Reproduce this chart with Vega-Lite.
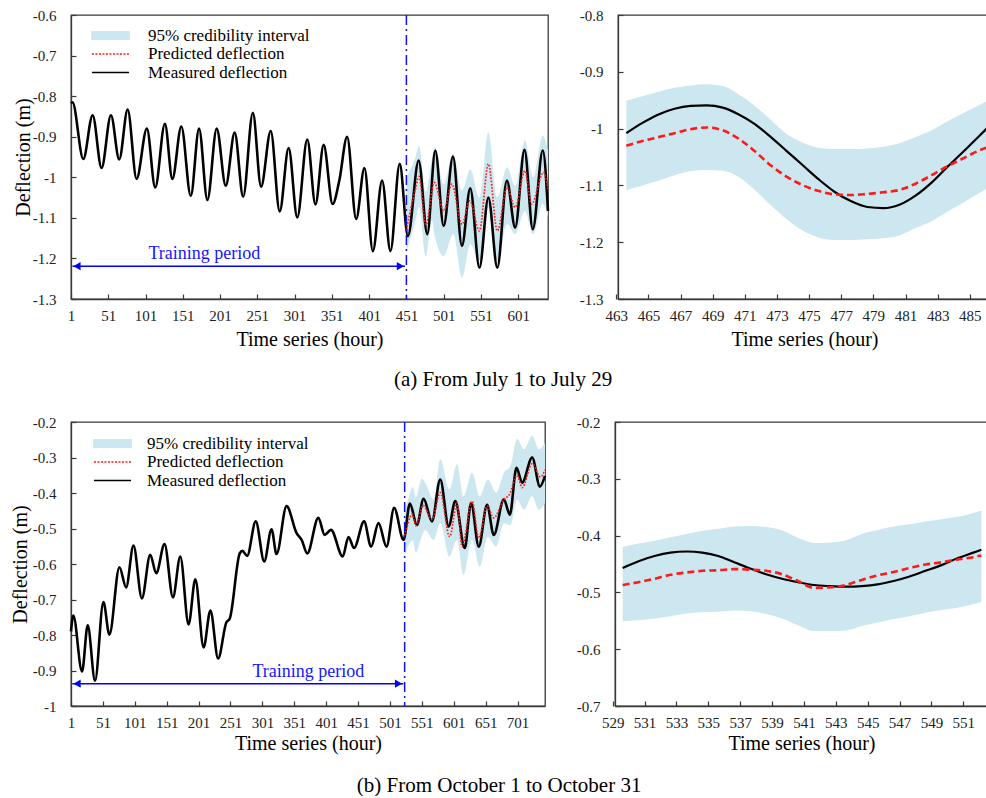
{
  "$schema": "https://vega.github.io/schema/vega-lite/v6.json",
  "background": "white",
  "padding": {"left": 9, "top": 7, "right": 0, "bottom": 0},
  "config": {
    "font": "Liberation Serif",
    "view": {"stroke": "#3a3a3a", "strokeWidth": 1.3},
    "axis": {
      "grid": false,
      "domainColor": "#3a3a3a",
      "domainWidth": 1.3,
      "tickColor": "#3a3a3a",
      "tickWidth": 1.2,
      "tickSize": -5,
      "labelFont": "Liberation Serif",
      "labelFontSize": 15,
      "labelColor": "#222222",
      "titleFont": "Liberation Serif",
      "titleFontSize": 20,
      "titleFontWeight": "normal",
      "titleColor": "#000000",
      "labelFlush": false,
      "labelOverlap": false,
      "labelBound": false
    },
    "axisX": {"labelPadding": 14, "titlePadding": 6},
    "axisY": {"labelPadding": 20, "titlePadding": -1},
    "legend": {
      "labelFont": "Liberation Serif",
      "labelFontSize": 17,
      "labelColor": "#000000",
      "labelLimit": 400,
      "padding": 0,
      "rowPadding": 0.5,
      "symbolSize": 272,
      "symbolType": "M-2.2,0H2.2",
      "symbolStrokeWidth": 1.6
    },
    "title": {"font": "Liberation Serif", "fontSize": 21, "fontWeight": "normal", "color": "#000000"}
  },
  "datasets": {
    "julyMeasured": [
      {"t": 1, "v": -0.818}, {"t": 3, "v": -0.815}, {"t": 17.5, "v": -0.955}, {"t": 30, "v": -0.847},
      {"t": 42, "v": -0.977}, {"t": 54.6, "v": -0.847}, {"t": 65.7, "v": -0.956}, {"t": 77, "v": -0.833},
      {"t": 89, "v": -1.004}, {"t": 102.8, "v": -0.88}, {"t": 114, "v": -1.025}, {"t": 127, "v": -0.868},
      {"t": 137, "v": -1.004}, {"t": 149, "v": -0.875}, {"t": 161.7, "v": -1.046}, {"t": 172.8, "v": -0.88},
      {"t": 184, "v": -1.056}, {"t": 196.5, "v": -0.88}, {"t": 208.6, "v": -1.021}, {"t": 220.6, "v": -0.89},
      {"t": 232, "v": -1.048}, {"t": 245, "v": -0.841}, {"t": 256, "v": -1.023}, {"t": 269, "v": -0.886},
      {"t": 281, "v": -1.084}, {"t": 293, "v": -0.928}, {"t": 304.6, "v": -1.099}, {"t": 318, "v": -0.907},
      {"t": 329, "v": -1.067}, {"t": 340, "v": -0.92}, {"t": 352, "v": -1.066}, {"t": 361, "v": -1.008},
      {"t": 371.5, "v": -0.9}, {"t": 383.6, "v": -1.103}, {"t": 394.7, "v": -0.977}, {"t": 406, "v": -1.182},
      {"t": 418.4, "v": -1.008}, {"t": 429.6, "v": -1.182}, {"t": 442, "v": -0.967}, {"t": 453, "v": -1.145},
      {"t": 467.5, "v": -0.959}, {"t": 479, "v": -1.14}, {"t": 489.8, "v": -0.934}, {"t": 501, "v": -1.12},
      {"t": 513.5, "v": -0.949}, {"t": 525.5, "v": -1.169}, {"t": 536.7, "v": -1.027}, {"t": 549, "v": -1.223},
      {"t": 561, "v": -1.05}, {"t": 573, "v": -1.223}, {"t": 585.8, "v": -1.008}, {"t": 597, "v": -1.124},
      {"t": 609.5, "v": -0.932}, {"t": 620.6, "v": -1.128}, {"t": 634, "v": -0.934}, {"t": 641, "v": -1.083}
    ],
    "julyPredicted": [
      {"t": 451, "v": -1.13}, {"t": 463, "v": -1.03}, {"t": 468, "v": -0.998}, {"t": 477, "v": -1.117},
      {"t": 488.5, "v": -1.013}, {"t": 501, "v": -1.083}, {"t": 512, "v": -1.017}, {"t": 525.5, "v": -1.116},
      {"t": 536, "v": -1.058}, {"t": 549, "v": -1.132}, {"t": 561, "v": -0.967}, {"t": 573, "v": -1.132},
      {"t": 586, "v": -1.025}, {"t": 597, "v": -1.074}, {"t": 610, "v": -0.984}, {"t": 619, "v": -1.066},
      {"t": 635, "v": -0.988}, {"t": 641, "v": -1.03}
    ],
    "julyBand": [
      {"t": 451, "hi": -1.0, "lo": -1.185}, {"t": 463, "hi": -0.951, "lo": -1.108}, {"t": 468, "hi": -0.922, "lo": -1.073},
      {"t": 477, "hi": -1.036, "lo": -1.196}, {"t": 485.5, "hi": -0.951, "lo": -1.105}, {"t": 488.5, "hi": -0.926, "lo": -1.14},
      {"t": 501, "hi": -1.017, "lo": -1.194}, {"t": 514, "hi": -0.942, "lo": -1.14}, {"t": 525.5, "hi": -1.033, "lo": -1.248},
      {"t": 536.7, "hi": -0.98, "lo": -1.165}, {"t": 549, "hi": -1.05, "lo": -1.206}, {"t": 561, "hi": -0.889, "lo": -1.074},
      {"t": 573, "hi": -1.05, "lo": -1.206}, {"t": 586, "hi": -0.975, "lo": -1.116}, {"t": 597, "hi": -1.021, "lo": -1.14},
      {"t": 610, "hi": -0.909, "lo": -1.083}, {"t": 621, "hi": -1.0, "lo": -1.14}, {"t": 634, "hi": -0.897, "lo": -1.066},
      {"t": 641, "hi": -0.934, "lo": -1.099}
    ],
    "julyDetail": [
      {"t": 463, "m": -1.008, "p": -1.03, "hi": -0.951, "lo": -1.108},
      {"t": 464, "m": -0.99, "p": -1.022, "hi": -0.943, "lo": -1.1},
      {"t": 465, "m": -0.975, "p": -1.015, "hi": -0.935, "lo": -1.092},
      {"t": 466, "m": -0.965, "p": -1.008, "hi": -0.928, "lo": -1.082},
      {"t": 467, "m": -0.96, "p": -1.001, "hi": -0.924, "lo": -1.075},
      {"t": 468, "m": -0.959, "p": -0.998, "hi": -0.922, "lo": -1.073},
      {"t": 469, "m": -0.963, "p": -1.003, "hi": -0.925, "lo": -1.074},
      {"t": 470, "m": -0.975, "p": -1.018, "hi": -0.94, "lo": -1.085},
      {"t": 471, "m": -0.992, "p": -1.04, "hi": -0.96, "lo": -1.108},
      {"t": 472, "m": -1.015, "p": -1.065, "hi": -0.985, "lo": -1.135},
      {"t": 473, "m": -1.04, "p": -1.085, "hi": -1.01, "lo": -1.16},
      {"t": 474, "m": -1.065, "p": -1.1, "hi": -1.025, "lo": -1.18},
      {"t": 475, "m": -1.09, "p": -1.11, "hi": -1.034, "lo": -1.192},
      {"t": 476, "m": -1.112, "p": -1.116, "hi": -1.036, "lo": -1.196},
      {"t": 477, "m": -1.128, "p": -1.117, "hi": -1.036, "lo": -1.196},
      {"t": 478, "m": -1.138, "p": -1.115, "hi": -1.035, "lo": -1.195},
      {"t": 479, "m": -1.14, "p": -1.112, "hi": -1.032, "lo": -1.193},
      {"t": 480, "m": -1.134, "p": -1.108, "hi": -1.026, "lo": -1.188},
      {"t": 481, "m": -1.118, "p": -1.097, "hi": -1.015, "lo": -1.175},
      {"t": 482, "m": -1.095, "p": -1.082, "hi": -1.003, "lo": -1.163},
      {"t": 483, "m": -1.067, "p": -1.066, "hi": -0.987, "lo": -1.146},
      {"t": 484, "m": -1.04, "p": -1.052, "hi": -0.972, "lo": -1.13},
      {"t": 485, "m": -1.012, "p": -1.038, "hi": -0.958, "lo": -1.113},
      {"t": 485.5, "m": -0.998, "p": -1.033, "hi": -0.951, "lo": -1.105}
    ],
    "octMeasured": [
      {"t": 1, "v": -0.79}, {"t": 4.6, "v": -0.745}, {"t": 18.3, "v": -0.903}, {"t": 27.2, "v": -0.773},
      {"t": 38.7, "v": -0.929}, {"t": 51.8, "v": -0.707}, {"t": 61.2, "v": -0.799}, {"t": 76.9, "v": -0.609},
      {"t": 87.4, "v": -0.666}, {"t": 98.9, "v": -0.548}, {"t": 112.1, "v": -0.697}, {"t": 125.2, "v": -0.574},
      {"t": 134.6, "v": -0.626}, {"t": 147.6, "v": -0.544}, {"t": 160.8, "v": -0.694}, {"t": 172.3, "v": -0.579},
      {"t": 185.3, "v": -0.77}, {"t": 195.9, "v": -0.643}, {"t": 208.9, "v": -0.835}, {"t": 219.5, "v": -0.731},
      {"t": 231.6, "v": -0.866}, {"t": 244.6, "v": -0.764}, {"t": 249.8, "v": -0.754}, {"t": 265.5, "v": -0.57},
      {"t": 269.7, "v": -0.563}, {"t": 277.1, "v": -0.577}, {"t": 290.6, "v": -0.48}, {"t": 303.9, "v": -0.593},
      {"t": 315.3, "v": -0.502}, {"t": 323.2, "v": -0.572}, {"t": 338.9, "v": -0.437}, {"t": 354.6, "v": -0.513},
      {"t": 362.5, "v": -0.532}, {"t": 371.4, "v": -0.57}, {"t": 388.7, "v": -0.47}, {"t": 398.6, "v": -0.518},
      {"t": 408.5, "v": -0.504}, {"t": 426.9, "v": -0.579}, {"t": 435.9, "v": -0.524}, {"t": 444.7, "v": -0.555},
      {"t": 460.4, "v": -0.48}, {"t": 471.4, "v": -0.551}, {"t": 483, "v": -0.485}, {"t": 495.6, "v": -0.551},
      {"t": 507.5, "v": -0.442}, {"t": 522.3, "v": -0.532}, {"t": 532.2, "v": -0.43}, {"t": 543.2, "v": -0.49},
      {"t": 553.7, "v": -0.416}, {"t": 566.8, "v": -0.48}, {"t": 579.8, "v": -0.362}, {"t": 593, "v": -0.494},
      {"t": 603.4, "v": -0.423}, {"t": 618.2, "v": -0.555}, {"t": 628.1, "v": -0.428}, {"t": 640.2, "v": -0.551},
      {"t": 653.2, "v": -0.433}, {"t": 663.7, "v": -0.518}, {"t": 679.5, "v": -0.418}, {"t": 688.9, "v": -0.461},
      {"t": 699.3, "v": -0.329}, {"t": 708.2, "v": -0.371}, {"t": 723.9, "v": -0.3}, {"t": 736, "v": -0.382},
      {"t": 744, "v": -0.352}
    ],
    "octPredicted": [
      {"t": 524, "v": -0.52}, {"t": 529, "v": -0.487}, {"t": 536, "v": -0.459}, {"t": 541.5, "v": -0.492},
      {"t": 553, "v": -0.435}, {"t": 566.8, "v": -0.475}, {"t": 579.8, "v": -0.399}, {"t": 594.6, "v": -0.523},
      {"t": 606.1, "v": -0.428}, {"t": 614, "v": -0.551}, {"t": 629.7, "v": -0.423}, {"t": 640.2, "v": -0.527},
      {"t": 653.2, "v": -0.437}, {"t": 663.7, "v": -0.47}, {"t": 679.5, "v": -0.418}, {"t": 688, "v": -0.405},
      {"t": 700.3, "v": -0.35}, {"t": 708.2, "v": -0.385}, {"t": 723.9, "v": -0.317}, {"t": 737, "v": -0.355},
      {"t": 744, "v": -0.335}
    ],
    "octBand": [
      {"t": 524, "hi": -0.447, "lo": -0.579}, {"t": 529, "hi": -0.42, "lo": -0.551}, {"t": 537, "hi": -0.383, "lo": -0.533},
      {"t": 541.5, "hi": -0.413, "lo": -0.568}, {"t": 551, "hi": -0.36, "lo": -0.521}, {"t": 556.2, "hi": -0.371, "lo": -0.504},
      {"t": 569.4, "hi": -0.418, "lo": -0.532}, {"t": 579.8, "hi": -0.305, "lo": -0.485}, {"t": 594, "hi": -0.39, "lo": -0.579},
      {"t": 606.1, "hi": -0.319, "lo": -0.532}, {"t": 616, "hi": -0.409, "lo": -0.631}, {"t": 629.7, "hi": -0.343, "lo": -0.532},
      {"t": 641.5, "hi": -0.409, "lo": -0.608}, {"t": 654.3, "hi": -0.362, "lo": -0.523}, {"t": 667.5, "hi": -0.399, "lo": -0.551},
      {"t": 679.5, "hi": -0.343, "lo": -0.485}, {"t": 689.8, "hi": -0.324, "lo": -0.49}, {"t": 700.3, "hi": -0.248, "lo": -0.418},
      {"t": 710.9, "hi": -0.277, "lo": -0.447}, {"t": 723.9, "hi": -0.239, "lo": -0.409}, {"t": 734.4, "hi": -0.277, "lo": -0.447},
      {"t": 744, "hi": -0.258, "lo": -0.428}
    ],
    "octDetail": [
      {"t": 529, "m": -0.457, "p": -0.487, "hi": -0.42, "lo": -0.551},
      {"t": 530, "m": -0.445, "p": -0.482, "hi": -0.414, "lo": -0.549},
      {"t": 531, "m": -0.436, "p": -0.476, "hi": -0.409, "lo": -0.546},
      {"t": 532, "m": -0.43, "p": -0.469, "hi": -0.403, "lo": -0.542},
      {"t": 533, "m": -0.428, "p": -0.465, "hi": -0.397, "lo": -0.537},
      {"t": 534, "m": -0.43, "p": -0.462, "hi": -0.392, "lo": -0.535},
      {"t": 535, "m": -0.436, "p": -0.461, "hi": -0.388, "lo": -0.534},
      {"t": 536, "m": -0.447, "p": -0.459, "hi": -0.384, "lo": -0.532},
      {"t": 537, "m": -0.458, "p": -0.46, "hi": -0.383, "lo": -0.533},
      {"t": 538, "m": -0.468, "p": -0.462, "hi": -0.385, "lo": -0.538},
      {"t": 539, "m": -0.476, "p": -0.468, "hi": -0.391, "lo": -0.546},
      {"t": 540, "m": -0.482, "p": -0.48, "hi": -0.404, "lo": -0.558},
      {"t": 541, "m": -0.487, "p": -0.492, "hi": -0.413, "lo": -0.568},
      {"t": 542, "m": -0.489, "p": -0.491, "hi": -0.412, "lo": -0.568},
      {"t": 543, "m": -0.49, "p": -0.487, "hi": -0.408, "lo": -0.567},
      {"t": 544, "m": -0.489, "p": -0.478, "hi": -0.397, "lo": -0.559},
      {"t": 545, "m": -0.486, "p": -0.47, "hi": -0.39, "lo": -0.553},
      {"t": 546, "m": -0.48, "p": -0.464, "hi": -0.384, "lo": -0.547},
      {"t": 547, "m": -0.472, "p": -0.457, "hi": -0.38, "lo": -0.542},
      {"t": 548, "m": -0.462, "p": -0.451, "hi": -0.375, "lo": -0.536},
      {"t": 549, "m": -0.452, "p": -0.447, "hi": -0.371, "lo": -0.531},
      {"t": 550, "m": -0.44, "p": -0.442, "hi": -0.367, "lo": -0.527},
      {"t": 551, "m": -0.43, "p": -0.438, "hi": -0.36, "lo": -0.521},
      {"t": 551.5, "m": -0.425, "p": -0.435, "hi": -0.356, "lo": -0.517}
    ]
  },
  "resolve": {"scale": {"color": "independent"}},
  "spacing": 24,
  "vconcat": [
    {
      "title": {"text": "(a) From July 1 to July 29", "orient": "bottom", "anchor": "middle", "offset": 19},
      "resolve": {"scale": {"color": "independent"}},
      "spacing": 24,
      "hconcat": [
        {
          "width": 477,
          "height": 284,
          "layer": [
            {
              "data": {"name": "julyBand"},
              "mark": {"type": "area", "interpolate": "monotone"},
              "encoding": {
                "x": {"field": "t", "type": "quantitative", "scale": {"domain": [1, 641], "nice": false, "zero": false},
                      "axis": {"values": [1, 51, 101, 151, 201, 251, 301, 351, 401, 451, 501, 551, 601], "tickCount": 100, "format": "d", "title": "Time series (hour)", "labelOverlap": false}},
                "y": {"field": "lo", "type": "quantitative", "scale": {"domain": [-1.3, -0.6], "nice": false, "zero": false},
                      "axis": {"values": [-1.3, -1.2, -1.1, -1, -0.9, -0.8, -0.7, -0.6], "tickCount": 100, "title": "Deflection (m)", "labelOverlap": false,
                               "labelExpr": "(datum.value < 0 ? '-' : '') + format(abs(datum.value), '~g')"}},
                "y2": {"field": "hi"},
                "color": {
                  "datum": "95% credibility interval",
                  "type": "nominal",
                  "scale": {"domain": ["95% credibility interval", "Predicted deflection", "Measured deflection"], "range": ["#cde7f0", "#ff1a1a", "#000000"]},
                  "legend": {
                    "orient": "none", "legendX": 30, "legendY": 11, "title": null, "labelOffset": 28,
                    "encode": {"symbols": {"update": {
                      "shape": [{"test": "datum.value === '95% credibility interval'", "value": "M-2.25,-0.46H2.25V0.46H-2.25Z"}, {"value": "M-2.25,0H2.25"}],
                      "fill": [{"test": "datum.value === '95% credibility interval'", "value": "#cde7f0"}, {"value": "transparent"}],
                      "stroke": [{"test": "datum.value === '95% credibility interval'", "value": "transparent"}, {"test": "datum.value === 'Predicted deflection'", "value": "#ff1a1a"}, {"value": "#000000"}],
                      "strokeDash": [{"test": "datum.value === 'Predicted deflection'", "value": [2, 1.5]}, {"value": [1, 0]}],
                      "strokeWidth": {"value": 1.6},
                      "opacity": {"value": 1}
                    }}}
                  }
                }
              }
            },
            {
              "data": {"name": "julyMeasured"},
              "mark": {"type": "line", "interpolate": "monotone", "strokeWidth": 2.6},
              "encoding": {
                "x": {"field": "t", "type": "quantitative"},
                "y": {"field": "v", "type": "quantitative"},
                "color": {"datum": "Measured deflection", "type": "nominal"}
              }
            },
            {
              "data": {"name": "julyPredicted"},
              "mark": {"type": "line", "interpolate": "monotone", "strokeWidth": 1.7, "strokeDash": [1.6, 1.6]},
              "encoding": {
                "x": {"field": "t", "type": "quantitative"},
                "y": {"field": "v", "type": "quantitative"},
                "color": {"datum": "Predicted deflection", "type": "nominal"}
              }
            },
            {
              "data": {"values": [{"t": 451}]},
              "mark": {"type": "rule", "color": "#1010ff", "strokeWidth": 1.5, "strokeDash": [10, 4, 2, 4]},
              "encoding": {"x": {"field": "t", "type": "quantitative"}}
            },
            {
              "data": {"values": [{"t": 3, "t2": 449, "v": -1.219}]},
              "mark": {"type": "rule", "color": "#0000ff", "strokeWidth": 1.5},
              "encoding": {
                "x": {"field": "t", "type": "quantitative"},
                "x2": {"field": "t2"},
                "y": {"field": "v", "type": "quantitative"}
              }
            },
            {
              "data": {"values": [{"t": 9, "v": -1.219}]},
              "mark": {"type": "point", "shape": "triangle-left", "filled": true, "color": "#0000ff", "size": 70, "opacity": 1},
              "encoding": {"x": {"field": "t", "type": "quantitative"}, "y": {"field": "v", "type": "quantitative"}}
            },
            {
              "data": {"values": [{"t": 443, "v": -1.219}]},
              "mark": {"type": "point", "shape": "triangle-right", "filled": true, "color": "#0000ff", "size": 70, "opacity": 1},
              "encoding": {"x": {"field": "t", "type": "quantitative"}, "y": {"field": "v", "type": "quantitative"}}
            },
            {
              "data": {"values": [{"t": 180, "v": -1.189, "label": "Training period"}]},
              "mark": {"type": "text", "color": "#1414ff", "fontSize": 18, "font": "Liberation Serif"},
              "encoding": {
                "x": {"field": "t", "type": "quantitative"},
                "y": {"field": "v", "type": "quantitative"},
                "text": {"field": "label"}
              }
            }
          ]
        },
        {
          "width": 373,
          "height": 284,
          "data": {"name": "julyDetail"},
          "layer": [
            {
              "mark": {"type": "area", "interpolate": "monotone", "color": "#cde7f0"},
              "encoding": {
                "x": {"field": "t", "type": "quantitative", "scale": {"domain": [462.48, 485.7], "nice": false, "zero": false},
                      "axis": {"values": [463, 465, 467, 469, 471, 473, 475, 477, 479, 481, 483, 485], "tickCount": 100, "format": "d", "title": "Time series (hour)", "labelOverlap": false, "tickOffset": -10}},
                "y": {"field": "lo", "type": "quantitative", "scale": {"domain": [-1.3, -0.8], "nice": false, "zero": false},
                      "axis": {"values": [-1.3, -1.2, -1.1, -1, -0.9, -0.8], "tickCount": 100, "title": null, "labelOverlap": false,
                               "labelExpr": "(datum.value < 0 ? '-' : '') + format(abs(datum.value), '~g')"}},
                "y2": {"field": "hi"}
              }
            },
            {
              "mark": {"type": "line", "interpolate": "monotone", "color": "#000000", "strokeWidth": 2.2},
              "encoding": {"x": {"field": "t", "type": "quantitative"}, "y": {"field": "m", "type": "quantitative"}}
            },
            {
              "mark": {"type": "line", "interpolate": "monotone", "color": "#ff1a1a", "strokeWidth": 2.6, "strokeDash": [7, 4]},
              "encoding": {"x": {"field": "t", "type": "quantitative"}, "y": {"field": "p", "type": "quantitative"}}
            }
          ]
        }
      ]
    },
    {
      "title": {"text": "(b) From October 1 to October 31", "orient": "bottom", "anchor": "middle", "offset": 21},
      "resolve": {"scale": {"color": "independent"}},
      "spacing": 24,
      "hconcat": [
        {
          "width": 474,
          "height": 284,
          "layer": [
            {
              "data": {"name": "octBand"},
              "mark": {"type": "area", "interpolate": "monotone"},
              "encoding": {
                "x": {"field": "t", "type": "quantitative", "scale": {"domain": [1, 744], "nice": false, "zero": false},
                      "axis": {"values": [1, 51, 101, 151, 201, 251, 301, 351, 401, 451, 501, 551, 601, 651, 701], "tickCount": 100, "format": "d", "title": "Time series (hour)", "titlePadding": 3, "labelOverlap": false}},
                "y": {"field": "lo", "type": "quantitative", "scale": {"domain": [-1, -0.2], "nice": false, "zero": false},
                      "axis": {"values": [-1, -0.9, -0.8, -0.7, -0.6, -0.5, -0.4, -0.3, -0.2], "tickCount": 100, "title": "Deflection (m)", "titlePadding": 2, "labelOverlap": false,
                               "labelExpr": "(datum.value < 0 ? '-' : '') + format(abs(datum.value), '~g')"}},
                "y2": {"field": "hi"},
                "color": {
                  "datum": "95% credibility interval",
                  "type": "nominal",
                  "scale": {"domain": ["95% credibility interval", "Predicted deflection", "Measured deflection"], "range": ["#cde7f0", "#ff1a1a", "#000000"]},
                  "legend": {
                    "orient": "none", "legendX": 32, "legendY": 12, "title": null, "labelOffset": 25,
                    "encode": {"symbols": {"update": {
                      "shape": [{"test": "datum.value === '95% credibility interval'", "value": "M-2.25,-0.46H2.25V0.46H-2.25Z"}, {"value": "M-2.25,0H2.25"}],
                      "fill": [{"test": "datum.value === '95% credibility interval'", "value": "#cde7f0"}, {"value": "transparent"}],
                      "stroke": [{"test": "datum.value === '95% credibility interval'", "value": "transparent"}, {"test": "datum.value === 'Predicted deflection'", "value": "#ff1a1a"}, {"value": "#000000"}],
                      "strokeDash": [{"test": "datum.value === 'Predicted deflection'", "value": [2, 1.5]}, {"value": [1, 0]}],
                      "strokeWidth": {"value": 1.6},
                      "opacity": {"value": 1}
                    }}}
                  }
                }
              }
            },
            {
              "data": {"name": "octMeasured"},
              "mark": {"type": "line", "interpolate": "monotone", "strokeWidth": 2.6},
              "encoding": {
                "x": {"field": "t", "type": "quantitative"},
                "y": {"field": "v", "type": "quantitative"},
                "color": {"datum": "Measured deflection", "type": "nominal"}
              }
            },
            {
              "data": {"name": "octPredicted"},
              "mark": {"type": "line", "interpolate": "monotone", "strokeWidth": 1.7, "strokeDash": [1.6, 1.6]},
              "encoding": {
                "x": {"field": "t", "type": "quantitative"},
                "y": {"field": "v", "type": "quantitative"},
                "color": {"datum": "Predicted deflection", "type": "nominal"}
              }
            },
            {
              "data": {"values": [{"t": 524}]},
              "mark": {"type": "rule", "color": "#1010ff", "strokeWidth": 1.5, "strokeDash": [10, 4, 2, 4]},
              "encoding": {"x": {"field": "t", "type": "quantitative"}}
            },
            {
              "data": {"values": [{"t": 3, "t2": 522, "v": -0.937}]},
              "mark": {"type": "rule", "color": "#0000ff", "strokeWidth": 1.5},
              "encoding": {
                "x": {"field": "t", "type": "quantitative"},
                "x2": {"field": "t2"},
                "y": {"field": "v", "type": "quantitative"}
              }
            },
            {
              "data": {"values": [{"t": 10.5, "v": -0.937}]},
              "mark": {"type": "point", "shape": "triangle-left", "filled": true, "color": "#0000ff", "size": 70, "opacity": 1},
              "encoding": {"x": {"field": "t", "type": "quantitative"}, "y": {"field": "v", "type": "quantitative"}}
            },
            {
              "data": {"values": [{"t": 514.5, "v": -0.937}]},
              "mark": {"type": "point", "shape": "triangle-right", "filled": true, "color": "#0000ff", "size": 70, "opacity": 1},
              "encoding": {"x": {"field": "t", "type": "quantitative"}, "y": {"field": "v", "type": "quantitative"}}
            },
            {
              "data": {"values": [{"t": 373, "v": -0.903, "label": "Training period"}]},
              "mark": {"type": "text", "color": "#1414ff", "fontSize": 18, "font": "Liberation Serif"},
              "encoding": {
                "x": {"field": "t", "type": "quantitative"},
                "y": {"field": "v", "type": "quantitative"},
                "text": {"field": "label"}
              }
            }
          ]
        },
        {
          "width": 373,
          "height": 284,
          "data": {"name": "octDetail"},
          "layer": [
            {
              "mark": {"type": "area", "interpolate": "monotone", "color": "#cde7f0"},
              "encoding": {
                "x": {"field": "t", "type": "quantitative", "scale": {"domain": [528.52, 551.92], "nice": false, "zero": false},
                      "axis": {"values": [529, 531, 533, 535, 537, 539, 541, 543, 545, 547, 549, 551], "tickCount": 100, "format": "d", "title": "Time series (hour)", "titlePadding": 3, "labelOverlap": false, "tickOffset": -10}},
                "y": {"field": "lo", "type": "quantitative", "scale": {"domain": [-0.7, -0.2], "nice": false, "zero": false},
                      "axis": {"values": [-0.7, -0.6, -0.5, -0.4, -0.3, -0.2], "tickCount": 100, "title": null, "labelOverlap": false,
                               "labelExpr": "(datum.value < 0 ? '-' : '') + format(abs(datum.value), '~g')"}},
                "y2": {"field": "hi"}
              }
            },
            {
              "mark": {"type": "line", "interpolate": "monotone", "color": "#000000", "strokeWidth": 2.2},
              "encoding": {"x": {"field": "t", "type": "quantitative"}, "y": {"field": "m", "type": "quantitative"}}
            },
            {
              "mark": {"type": "line", "interpolate": "monotone", "color": "#ff1a1a", "strokeWidth": 2.6, "strokeDash": [7, 4]},
              "encoding": {"x": {"field": "t", "type": "quantitative"}, "y": {"field": "p", "type": "quantitative"}}
            }
          ]
        }
      ]
    }
  ]
}
